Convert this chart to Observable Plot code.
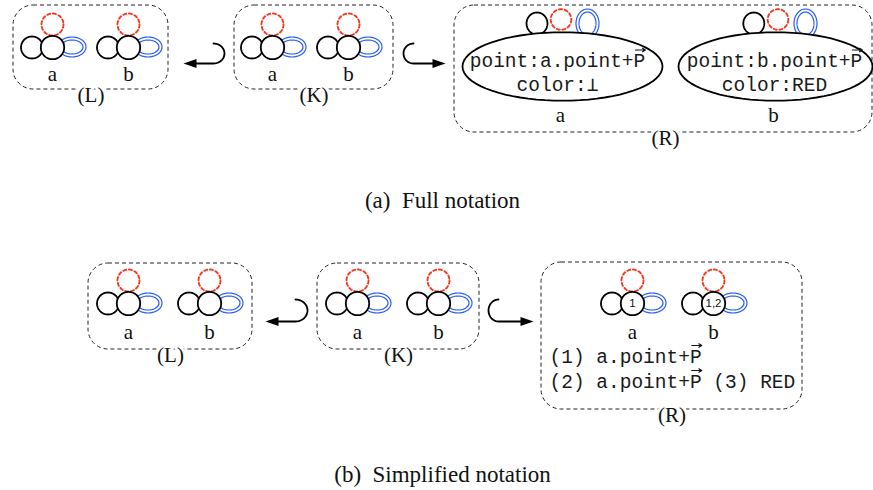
<!DOCTYPE html>
<html><head><meta charset="utf-8">
<style>html,body{margin:0;padding:0;background:#fff}</style>
<script src="https://cdn.jsdelivr.net/npm/d3@7"></script>
<script src="https://cdn.jsdelivr.net/npm/@observablehq/plot@0.6"></script>
</head><body><div id="chart"></div>
<script>
// ---------------- data (content only) ----------------
const graphLabels = ["(L)", "(K)", "(R)"];
const nodeLabels = ["a", "b"];
const fullPointAttr = ["point:a.point+P", "point:b.point+P"];
const fullColorAttr = ["color:⊥", "color:RED"];
const simpleNodeTags = ["1", "1,2"];
const simpleAttrLines = ["(1) a.point+P", "(2) a.point+P (3) RED"];
const captions = ["(a)  Full notation", "(b)  Simplified notation"];

// ---------------- layout (pixels) ----------------
const W = 873, H = 490;
const RED = "#f3391f", BLUE = "#2d5ef2", BOX = "#222";
const SERIF = "Liberation Serif, Times New Roman, serif";
const MONO = "Liberation Mono, Courier New, monospace";
const SANS = "Liberation Sans, Arial, sans-serif";
const FS = 21, MFS = 19.5, CW = MFS * 0.6;

// dashed graph boxes: [panel][graph]
const boxGeom = [
  [[13, 168, 5, 89], [234, 393, 5, 89], [454, 872, 5, 132]],
  [[88, 252, 263, 349], [317, 479, 263, 349], [541, 802, 262, 409]]
];
// node glyph centres per panel/graph (a, b)
const nodeGeom = [
  [[[52, 47], [128, 47]], [[272, 47], [348, 47]]],
  [[[128, 303], [209, 303]], [[357, 303], [438, 303]], [[632, 303], [713, 303]]]
];
// attribute ellipses of panel (a), graph R
const ellGeom = [[562, 66, 100, 34.2, 557], [775, 66, 97, 34.2, 774]];
const ellLoopDx = [[-25.5, -1.5, 25], [-21.7, 2.5, 30]];

const boxes = [], boxTexts = [], nodes = [], nodeTexts = [], loops = [], texts = [], monos = [], vecs = [];
let lid = 0;
function ell(cx, cy, rx, ry, extra) {
  const id = lid++;
  return d3.range(0, 73).map(i => {
    const t = (i / 72) * 2 * Math.PI;
    return {id, x: cx + rx * Math.cos(t), y: cy + ry * Math.sin(t), ...extra};
  });
}
boxGeom.forEach((panel, p) => panel.forEach(([x1, x2, y1, y2], g) => {
  boxes.push({x1, x2, y1, y2});
  boxTexts.push({x: (x1 + x2) / 2 + (g === 2 && p === 0 ? 2 : 0), y: y2 + 12, t: graphLabels[g]});
}));
nodeGeom.forEach((panel, p) => panel.forEach((pair, g) => pair.forEach(([x, y], n) => {
  nodes.push({x, y});
  loops.push(...ell(x - 20.5, y, 11, 11, {k: "black"}));
  loops.push(...ell(x, y - 23, 11, 11, {k: "red"}));
  loops.push(...ell(x + 19.5, y - 0.5, 12.5, 8.5, {k: "blue"}));
  nodeTexts.push({x, y: y + (p === 0 ? 33 : 35), t: nodeLabels[n]});
  if (p === 1 && g === 2) texts.push({x, y, t: simpleNodeTags[n]});
})));
// panel (a) R: ellipse nodes with loops on top
const ellipses = [];
ellGeom.forEach(([cx, cy, rx, ry, tx], n) => {
  const [d0, d1, d2] = ellLoopDx[n];
  loops.push(...ell(cx + d0, cy - 43, 10.5, 11, {k: "black"}));
  loops.push(...ell(cx + d1, cy - 47, 10.3, 10.3, {k: "red"}));
  loops.push(...ell(cx + d2, cy - 43, 10, 13, {k: "blue"}));
  ellipses.push(...ell(cx, cy, rx, ry, {}));
  monos.push({x: tx, y: cy + 0.7, t: fullPointAttr[n], a: "middle"});
  monos.push({x: tx, y: cy + 24.7, t: fullColorAttr[n], a: "middle"});
  const px = tx + 7 * CW;
  vecs.push({x1: px - 4, x2: px + 6, y: cy - 16.5});
  nodeTexts.push({x: cx - 2, y: cy + 55.7, t: nodeLabels[n]});
});
// panel (b) R: attribute list
const listX = 549;
simpleAttrLines.forEach((t, i) => {
  const y = 362 + i * 25;
  monos.push({x: listX, y, t, a: "start"});
  const px = listX + 12.5 * CW;
  vecs.push({x1: px - 4, x2: px + 6, y: y - 17});
});
// morphism arrows: hook + straight + filled head (dir -1 = points left)
const arrows = [
  {dir: -1, tip: 183, hx: 213, y: 63, rx: 11, ry: 10},
  {dir: 1, tip: 445, hx: 413, y: 63, rx: 10, ry: 10},
  {dir: -1, tip: 265, hx: 295, y: 321, rx: 12, ry: 11},
  {dir: 1, tip: 533, hx: 498, y: 321, rx: 10, ry: 11}
];
const arrowPts = [], heads = [];
arrows.forEach((a, i) => {
  const cy = a.y - a.ry;
  arrowPts.push({id: i, x: a.tip - a.dir * 6, y: a.y});
  for (let k = 0; k <= 24; k++) {
    const t = Math.PI / 2 + a.dir * (k / 24) * Math.PI; // bottom -> side -> top
    arrowPts.push({id: i, x: a.hx + a.rx * Math.cos(t), y: cy + a.ry * Math.sin(t)});
  }
  heads.push({x: a.tip - a.dir * 6.5, y: a.y, rot: a.dir === 1 ? 0 : 180});
});
const headSymbol = {draw(ctx) { ctx.moveTo(6.5, 0); ctx.lineTo(-6.5, -4.6); ctx.lineTo(-6.5, 4.6); ctx.closePath(); }};

const chart = Plot.plot({
  width: W, height: H, margin: 0,
  x: {domain: [0, W], range: [0, W], axis: null},
  y: {domain: [0, H], range: [0, H], axis: null},
  style: {background: "#fff"},
  marks: [
    Plot.rect(boxes, {x1: "x1", x2: "x2", y1: "y1", y2: "y2", rx: 20, ry: 20, fill: "none", stroke: BOX, strokeWidth: 1, strokeDasharray: "4,3"}),
    Plot.text(boxTexts, {x: "x", y: "y", text: "t", lineAnchor: "bottom", fontFamily: SERIF, fontSize: FS, fill: "#111", stroke: "white", strokeWidth: 6}),
    Plot.line(loops.filter(d => d.k === "blue"), {x: "x", y: "y", z: "id", curve: "linear-closed", stroke: BLUE, strokeWidth: 4.2, fill: "white"}),
    Plot.line(loops.filter(d => d.k === "blue"), {x: "x", y: "y", z: "id", curve: "linear-closed", stroke: "white", strokeWidth: 1.8}),
    Plot.line(loops.filter(d => d.k === "black"), {x: "x", y: "y", z: "id", curve: "linear-closed", stroke: "black", strokeWidth: 1.8, fill: "white"}),
    Plot.line(loops.filter(d => d.k === "red"), {x: "x", y: "y", z: "id", curve: "linear-closed", stroke: RED, strokeWidth: 1.9, strokeDasharray: "3.2,2.6"}),
    Plot.dot(nodes, {x: "x", y: "y", r: 11.7, fill: "white", stroke: "black", strokeWidth: 1.8}),
    Plot.line(ellipses, {x: "x", y: "y", z: "id", curve: "linear-closed", stroke: "black", strokeWidth: 1.8, fill: "white"}),
    Plot.text(texts, {x: "x", y: "y", text: "t", fontFamily: SANS, fontSize: 11.5, fill: "#111"}),
    Plot.text(nodeTexts, {x: "x", y: "y", text: "t", lineAnchor: "bottom", fontFamily: SERIF, fontSize: FS, fill: "#111"}),
    Plot.text(monos.filter(d => d.a === "middle"), {x: "x", y: "y", text: "t", lineAnchor: "bottom", textAnchor: "middle", fontFamily: MONO, fontSize: MFS, fill: "#1a1a1a"}),
    Plot.text(monos.filter(d => d.a === "start"), {x: "x", y: "y", text: "t", lineAnchor: "bottom", textAnchor: "start", fontFamily: MONO, fontSize: MFS, fill: "#1a1a1a"}),
    Plot.arrow(vecs, {x1: "x1", x2: "x2", y1: "y", y2: "y", stroke: "#111", strokeWidth: 1.2, headLength: 5}),
    Plot.line(arrowPts, {x: "x", y: "y", z: "id", curve: "linear", stroke: "black", strokeWidth: 1.8}),
    Plot.dot(heads, {x: "x", y: "y", symbol: headSymbol, rotate: "rot", fill: "black", stroke: null}),
    Plot.text(captions.map((t, i) => ({t, x: 442, y: [207.3, 481.7][i]})), {x: "x", y: "y", text: "t", lineAnchor: "bottom", fontFamily: SERIF, fontSize: 23, fill: "#111"})
  ]
});
document.getElementById("chart").append(chart);
</script>
</body></html>
